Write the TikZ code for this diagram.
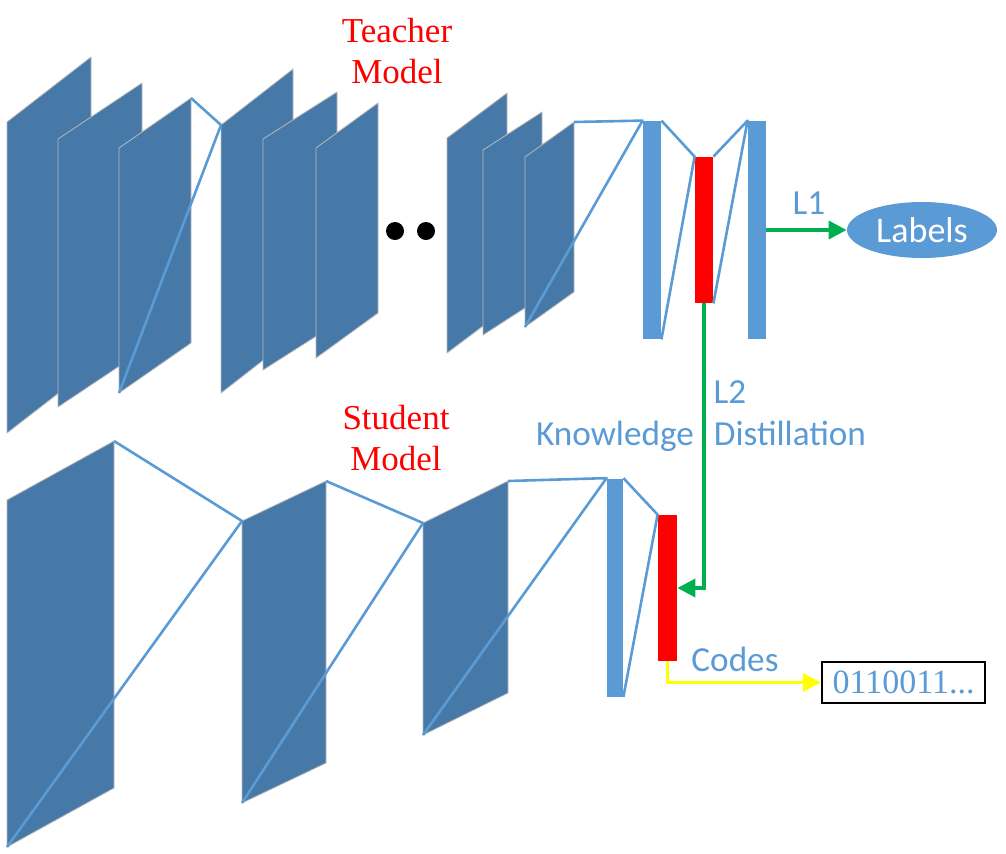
\documentclass[tikz,border=0pt]{standalone}
\usepackage{fontspec}
\setmainfont{Liberation Serif}
\newfontfamily\cfont{Carlito}
\usetikzlibrary{arrows.meta,shapes.geometric}
\definecolor{layerblue}{HTML}{4679A8}
\definecolor{lineblue}{HTML}{5B9BD5}
\definecolor{kdgreen}{HTML}{00B050}
\definecolor{codeyellow}{HTML}{FFFF00}
\tikzset{
  layer/.style={fill=layerblue, draw=gray!55, line width=0.4pt},
  link/.style={draw=lineblue, line width=1.3pt, line join=round},
  fcbar/.style={fill=lineblue, inner sep=0pt, minimum width=9pt, minimum height=109pt},
  codebar/.style={fill=red, inner sep=0pt, minimum width=9pt, minimum height=73pt},
  lbl/.style={text=lineblue, font=\cfont\fontsize{17.6}{21}\selectfont, inner sep=0pt},
  title/.style={text=red, font=\fontsize{17.5}{20.5}\selectfont, align=center, inner sep=0pt},
  dot/.style={circle, fill=black, inner sep=0pt, minimum size=9pt},
  kdarrow/.style={draw=kdgreen, line width=1.8pt, -{Triangle[length=9pt,width=9pt]}},
  codearrow/.style={draw=codeyellow, line width=1.8pt, -{Triangle[length=9pt,width=9pt]}}
}
\begin{document}
\begin{tikzpicture}[x=0.5pt,y=-0.5pt]
    \useasboundingbox (0,0) rectangle (1006,853);
    % teacher layers: left x / left top y / right x / right top y / height
    \foreach \xl/\yl/\xr/\yr/\h in {7/122/91/57/311, 58/139/142/83/268, 119/148/191/98/245,
        221/125/293/69/268, 263/139/337/92/231, 316/148/378/103/210,
        447/138/507/93/215, 483/150/542/112/185, 525/157/574/122/170}
        \filldraw[layer] (\xl,\yl) -- (\xr,\yr) -- (\xr,\yr+\h) -- (\xl,\yl+\h) -- cycle;
    % student layers
    \foreach \xl/\yl/\xr/\yr/\h in {7/500/114/441/347, 242/521/326/481/282, 423/523/508/481/212}
        \filldraw[layer] (\xl,\yl) -- (\xr,\yr) -- (\xr,\yr+\h) -- (\xl,\yl+\h) -- cycle;
    \node[dot] (dotA) at (395,231) {};
    \node[dot] (dotB) at (426,231) {};
    \node[fcbar] (fc1) at (652,230) {};
    \node[codebar] (red1) at (704,230) {};
    \node[fcbar] (fc2) at (757,230) {};
    \node[fcbar, minimum width=8pt] (fc3) at (615,587.5) {};
    \node[codebar, minimum width=9.5pt] (red2) at (667.5,588) {};
    \draw[link] (191,98) -- (221,125) -- (119,393);
    \draw[link] (574,122) -- (fc1.north west) -- (525,327);
    \draw[link] (fc1.north east) -- (red1.north west) -- (fc1.south east);
    \draw[link] (red1.north east) -- (fc2.north west) -- (red1.south east);
    \draw[link] (114,441) -- (242,521) -- (7,847);
    \draw[link] (326,481) -- (423,523) -- (242,803);
    \draw[link] (508,481) -- (fc3.north west) -- (423,735);
    \draw[link] (fc3.north east) -- (red2.north west) -- (fc3.south east);
    \node[ellipse, fill=lineblue, minimum width=75pt, minimum height=28pt, inner sep=0pt,
        text=white, font=\cfont\fontsize{18}{21}\selectfont] (labels) at (922,230) {Labels};
    \node[draw=black, line width=1.2pt, minimum width=81.5pt, minimum height=20.5pt, inner sep=0pt,
        text=lineblue, font=\fontsize{17}{20}\selectfont] (bits) at (903.5,682.5) {0110011...};
    \draw[kdarrow] (fc2.east) -- (labels.west);
    \draw[kdarrow] (red1.south) |- (red2.east);
    \draw[codearrow] (red2.south) |- (bits.west);
    \node[title] (teacher) at (397,51) {Teacher\\Model};
    \node[title] (student) at (396,438) {Student\\Model};
    \node[lbl, anchor=base] (lone) at (809,214) {L1};
    \node[lbl, anchor=base] (ltwo) at (730,403) {L2};
    \node[lbl, anchor=base] (know) at (615,445) {Knowledge};
    \node[lbl, anchor=base] (dist) at (790,445) {Distillation};
    \node[lbl, anchor=base] (codes) at (735,671) {Codes};
\end{tikzpicture}
\end{document}
